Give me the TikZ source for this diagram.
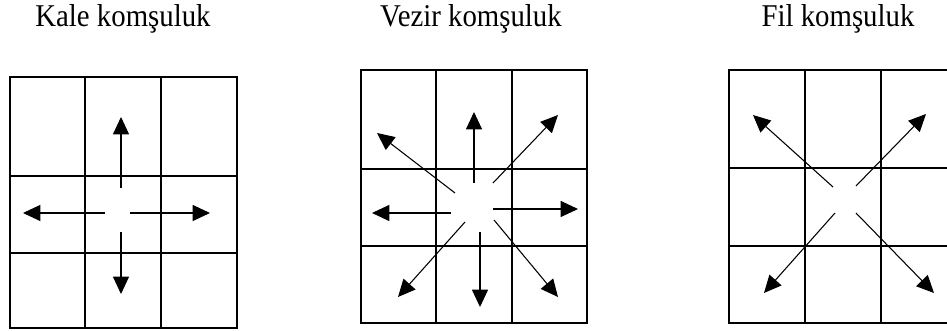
\documentclass[tikz,border=0pt]{standalone}
\usepackage{fontspec}
\setmainfont{Liberation Serif}
\usetikzlibrary{arrows.meta}
\newcommand{\tallfont}[1]{\scalebox{1}[1.1]{#1}}

\begin{document}
\begin{tikzpicture}[x=0.75pt, y=-0.75pt,
  title/.style={anchor=base, inner sep=0pt, font=\fontsize{21.6}{26}\selectfont},
  frame/.style={line width=1.9pt, line cap=rect},
  ar/.style={-{Triangle[length=13pt, width=12pt]}, line width=0.8pt}]
\useasboundingbox (0,0) rectangle (947,331);
\clip (0,0) rectangle (947,331);
% titles
\node[title] (kale)  at (123,27) {\tallfont{Kale komşuluk}};
\node[title] (vezir) at (471,27) {\tallfont{Vezir komşuluk}};
\node[title] (fil)   at (838,27) {\tallfont{Fil komşuluk}};
% grids
\draw[frame] (10,77) rectangle (237,328) (85,77) -- (85,328) (161,77) -- (161,328)
  (10,176) -- (237,176) (10,253) -- (237,253);
\draw[frame] (361,70) rectangle (587,323) (436,70) -- (436,323) (512,70) -- (512,323)
  (361,169) -- (587,169) (361,246) -- (587,246);
\draw[frame] (729,70) rectangle (957,323) (805,70) -- (805,323) (881,70) -- (881,323)
  (729,168) -- (957,168) (729,246) -- (957,246);
% kale arrows
\coordinate (k-n0) at (121,188); \coordinate (k-n) at (121,117);
\coordinate (k-s0) at (121,232); \coordinate (k-s) at (121,294);
\coordinate (k-w0) at (105,213); \coordinate (k-w) at (23,213);
\coordinate (k-e0) at (130,213); \coordinate (k-e) at (210,213);
\draw[ar] (k-n0)--(k-n); \draw[ar] (k-s0)--(k-s);
\draw[ar] (k-w0)--(k-w); \draw[ar] (k-e0)--(k-e);
% vezir arrows
\coordinate (v-n0) at (474,183);  \coordinate (v-n) at (474,112);
\coordinate (v-s0) at (480,232);  \coordinate (v-s) at (480,307);
\coordinate (v-w0) at (451,213);  \coordinate (v-w) at (372,213);
\coordinate (v-e0) at (493,209);  \coordinate (v-e) at (578,209);
\coordinate (v-nw0) at (455,193); \coordinate (v-nw) at (377,133);
\coordinate (v-ne0) at (493,183); \coordinate (v-ne) at (558,115);
\coordinate (v-sw0) at (465,222); \coordinate (v-sw) at (398,297);
\coordinate (v-se0) at (494,220); \coordinate (v-se) at (558,297);
\draw[ar] (v-n0)--(v-n); \draw[ar] (v-s0)--(v-s);
\draw[ar] (v-w0)--(v-w); \draw[ar] (v-e0)--(v-e);
\draw[ar] (v-nw0)--(v-nw); \draw[ar] (v-ne0)--(v-ne);
\draw[ar] (v-sw0)--(v-sw); \draw[ar] (v-se0)--(v-se);
% fil arrows
\coordinate (f-nw0) at (833,187); \coordinate (f-nw) at (753,115);
\coordinate (f-ne0) at (856,186); \coordinate (f-ne) at (926,114);
\coordinate (f-sw0) at (835,213); \coordinate (f-sw) at (764,293);
\coordinate (f-se0) at (856,213); \coordinate (f-se) at (934,293);
\draw[ar] (f-nw0)--(f-nw); \draw[ar] (f-ne0)--(f-ne);
\draw[ar] (f-sw0)--(f-sw); \draw[ar] (f-se0)--(f-se);
\end{tikzpicture}
\end{document}
